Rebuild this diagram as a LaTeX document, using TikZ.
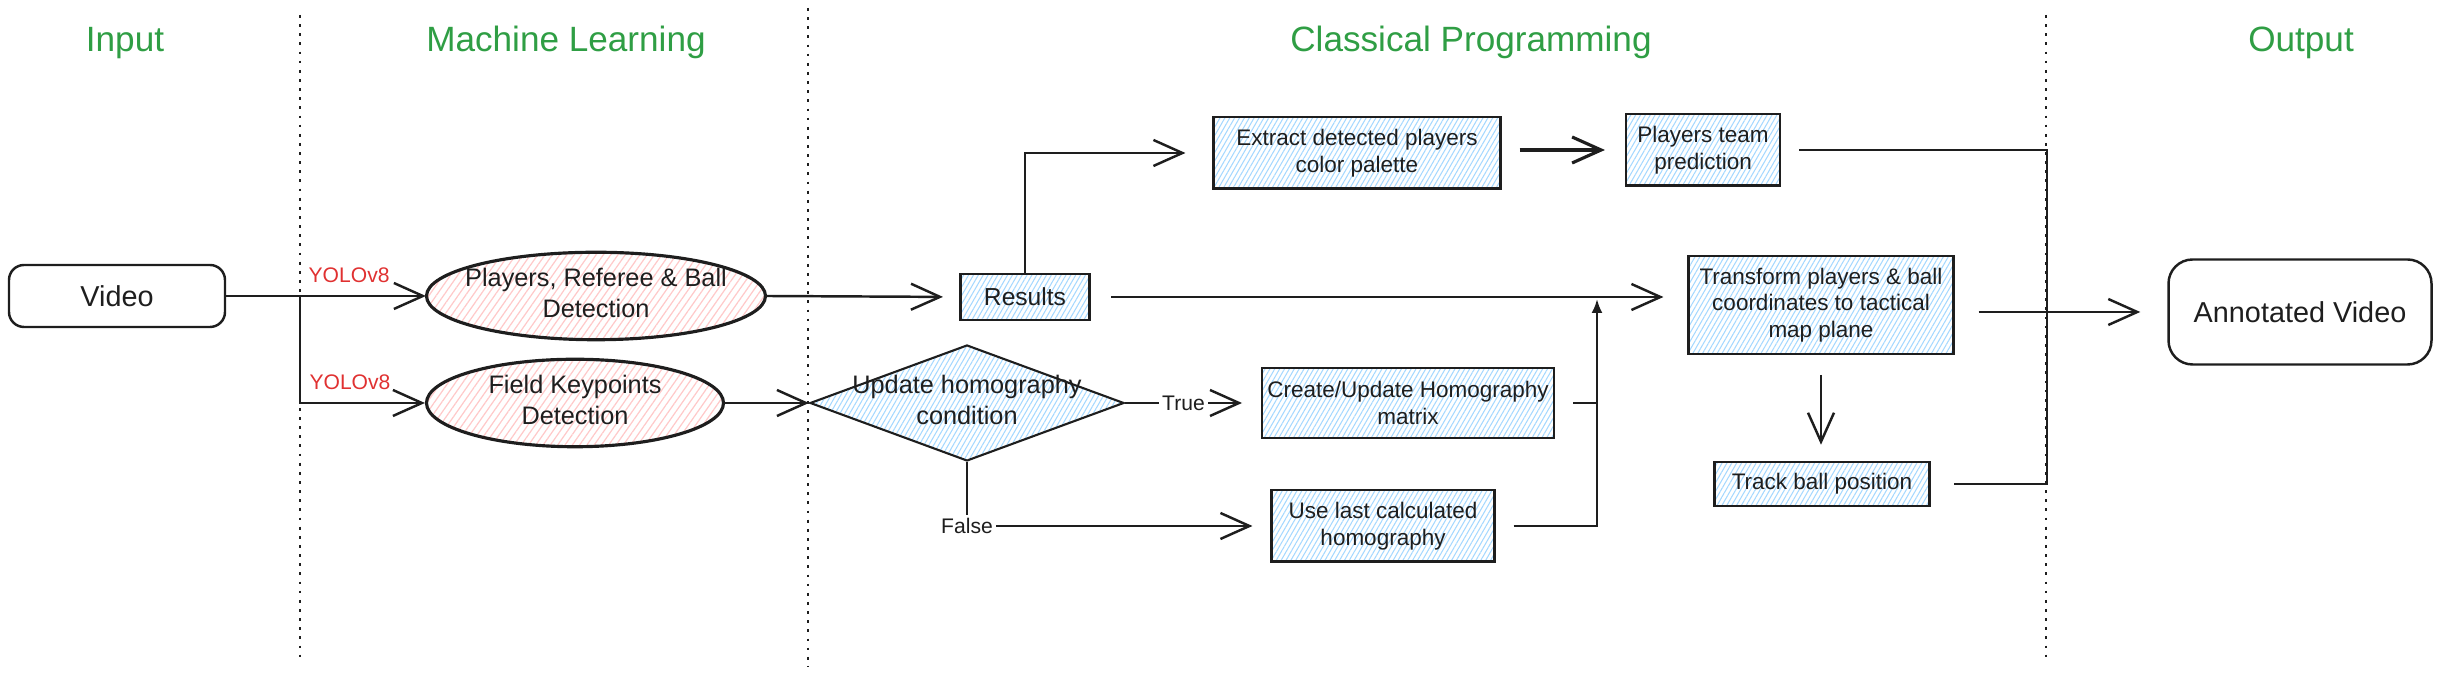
\documentclass[tikz,border=0pt]{standalone}
\usepackage{fontspec}
\setmainfont{Liberation Sans}
\usetikzlibrary{shapes.geometric,arrows.meta,patterns.meta}
\definecolor{ink}{HTML}{1E1E1E}
\definecolor{titlegreen}{HTML}{2F9E44}
\definecolor{modelred}{HTML}{E03131}
\definecolor{hatchblue}{HTML}{A5D8FF}
\definecolor{hatchred}{HTML}{FFC9C9}
\newcommand{\squeezed}[1]{\makebox[0pt]{\begin{tabular}{@{}c@{}}#1\end{tabular}}}

\begin{document}
\begin{tikzpicture}[ink, line width=0.7pt, >={Straight Barb[length=2.9mm,width=2.6mm]}]
\tikzstyle{heading}=[text=titlegreen,anchor=base,font=\fontsize{10}{12}\selectfont]
\tikzstyle{divider}=[line width=0.4pt,dash pattern=on 0.8pt off 1.8pt]
\tikzstyle{terminal}=[draw,rounded corners=0.15cm,font=\fontsize{8.2}{10}\selectfont]
\tikzstyle{model}=[draw,ellipse,line width=0.9pt,inner sep=0pt,pattern={Lines[angle=55,distance=1.7pt,line width=0.35pt]},pattern color=hatchred,font=\fontsize{7.2}{8.8}\selectfont]
\tikzstyle{process}=[draw,line width=0.6pt,align=center,inner xsep=1.5pt,pattern={Lines[angle=60,distance=1.2pt,line width=0.3pt]},pattern color=hatchblue,font=\fontsize{6.4}{7.6}\selectfont]
\tikzstyle{decision}=[draw,diamond,line width=0.6pt,inner sep=0pt,pattern={Lines[angle=60,distance=1.2pt,line width=0.3pt]},pattern color=hatchblue,font=\fontsize{7.2}{8.8}\selectfont]
\tikzstyle{tag}=[text=modelred,above,font=\fontsize{6}{7}\selectfont]
\tikzstyle{branch}=[fill=white,inner sep=1pt,font=\fontsize{6}{7}\selectfont]
\useasboundingbox (0,0) rectangle (24.42,6.79);
  \foreach \place/\name/\title in {{(1.25,6.27)/input/Input},
                                   {(5.66,6.27)/learning/Machine Learning},
                                   {(14.71,6.27)/classical/Classical Programming},
                                   {(23.01,6.27)/output/Output}}
    \node[heading] (\name) at \place {\title};
  \foreach \x/\top/\bottom in {3.00/6.64/0.16, 8.08/6.71/0.12, 20.46/6.64/0.16}
    \draw[divider] (\x,\top) -- (\x,\bottom);

  \node[terminal,minimum width=2.16cm,minimum height=0.62cm] (video) at (1.17,3.83) {Video};
  \node[model,minimum width=3.39cm,minimum height=0.84cm] (detect) at (5.96,3.83) {\squeezed{Players, Referee \& Ball\\Detection}};
  \node[model,minimum width=2.97cm,minimum height=0.85cm] (keypts) at (5.75,2.76) {\squeezed{Field Keypoints\\Detection}};
  \node[process,minimum width=1.29cm,minimum height=0.46cm,font=\fontsize{7}{8}\selectfont] (results) at (10.25,3.82) {Results};
  \node[process,minimum width=2.87cm,minimum height=0.70cm] (palette) at (13.57,5.26) {Extract detected players\\color palette};
  \node[process,minimum width=1.54cm,minimum height=0.69cm] (team) at (17.03,5.29) {Players team\\prediction};
  \node[decision,minimum width=3.14cm,minimum height=1.16cm] (cond) at (9.67,2.76) {\squeezed{Update homography\\condition}};
  \node[process,minimum width=2.86cm,minimum height=0.70cm] (homog) at (14.08,2.76) {Create/Update Homography\\matrix};
  \node[process,minimum width=2.23cm,minimum height=0.62cm] (lasthomog) at (13.83,1.53) {Use last calculated\\homography};
  \node[process,minimum width=2.65cm,minimum height=0.84cm] (transform) at (18.21,3.74) {Transform players \& ball\\coordinates to tactical\\map plane};
  \node[process,minimum width=2.15cm,minimum height=0.41cm] (track) at (18.22,1.95) {Track ball position};
  \node[terminal,rounded corners=0.24cm,minimum width=2.63cm,minimum height=1.05cm] (annotated) at (23.00,3.67) {Annotated Video};

  \coordinate (split) at (3.00,3.83);
  \coordinate (hub) at (15.97,3.80);
  \coordinate (join) at (20.47,1.95);

  \draw (video) -- (split);
  \draw[->] (split) -- node[tag,pos=0.39] {YOLOv8} (split -| detect.west);
  \draw[->] (split) |- node[tag,pos=0.7] {YOLOv8} (keypts.west);
  \draw[->,shorten >=0.17cm] (detect.east) -- (results.west);
  \draw[->] (keypts.east) -- (cond.west);
  \draw[->,shorten >=0.27cm] (results.north) |- (palette.west);
  \draw[->,line width=0.9pt,shorten <=0.18cm,shorten >=0.2cm] (palette.east |- team.west) -- (team.west);
  \draw[shorten <=0.18cm,shorten >=0.23cm] (team.east) -| (join) -- (track.east);
  \draw[->,shorten <=0.21cm,shorten >=0.24cm] (results.east) -- (results.east -| transform.west);
  \draw[->,shorten <=0.24cm,shorten >=0.27cm] (transform.east |- annotated.west) -- (annotated.west);
  \draw[->,shorten <=0.2cm,shorten >=0.16cm] (transform.south) -- (transform.south |- track.north);
  \draw[->,shorten >=0.19cm] (cond.east) -- node[branch,pos=0.43] {True} (homog.west);
  \draw[->,shorten >=0.18cm] (cond.south) |- node[branch,pos=0.5] {False} (lasthomog.west);
  \draw[shorten <=0.18cm] (homog.east) -- (homog.east -| hub);
  \draw[-{Latex[length=1.4mm,width=1.1mm]},shorten <=0.18cm] (lasthomog.east) -| (hub);
\end{tikzpicture}
\end{document}
